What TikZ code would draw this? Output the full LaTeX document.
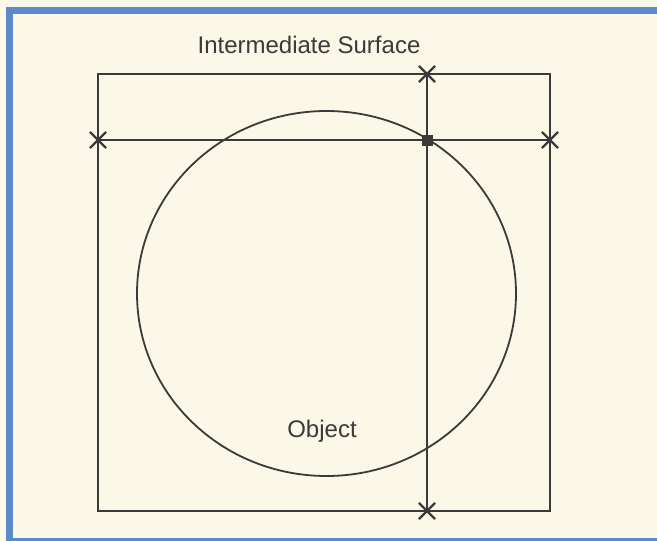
\documentclass[tikz,border=0pt]{standalone}
\usepackage{fontspec}
\setmainfont{Liberation Sans}
\usetikzlibrary{shapes.misc}
\definecolor{paper}{HTML}{FCF8E7}
\definecolor{frameblue}{HTML}{5B8CC9}
\definecolor{ink}{HTML}{3B3939}

\begin{document}
\begin{tikzpicture}[x=1pt,y=-1pt,
  xmark/.style={cross out,draw=ink,line width=2.2pt,minimum size=14pt,inner sep=0pt},
  hit/.style={rectangle,fill=ink,minimum size=11pt,inner sep=0pt},
  lbl/.style={font=\fontsize{24}{28}\selectfont,text=ink}]
\useasboundingbox (0,0) rectangle (657,541);
\fill[paper] (0,0) rectangle (657,541);
\draw[frameblue,line width=7pt] (9.5,10.5) rectangle (664,541);
% surface and object
\draw[ink,line width=1.8pt] (98,74) rectangle (550,511);
\draw[ink,line width=1.8pt] (326.5,293.5) ellipse (189.5 and 182.5);
% crossing lines
\node[xmark] (ltop) at (427,74) {};
\node[xmark] (lbot) at (427,511) {};
\node[xmark] (lleft) at (98,140) {};
\node[xmark] (lright) at (550,140) {};
\draw[ink,line width=1.8pt] (ltop.center) -- (lbot.center);
\draw[ink,line width=1.8pt] (lleft.center) -- (lright.center);
\node[hit] (meet) at (427,140) {};
% labels
\node[lbl] (surf) at (309,45) {Intermediate Surface};
\node[lbl] (obj) at (322,431) {Object};
\end{tikzpicture}
\end{document}
